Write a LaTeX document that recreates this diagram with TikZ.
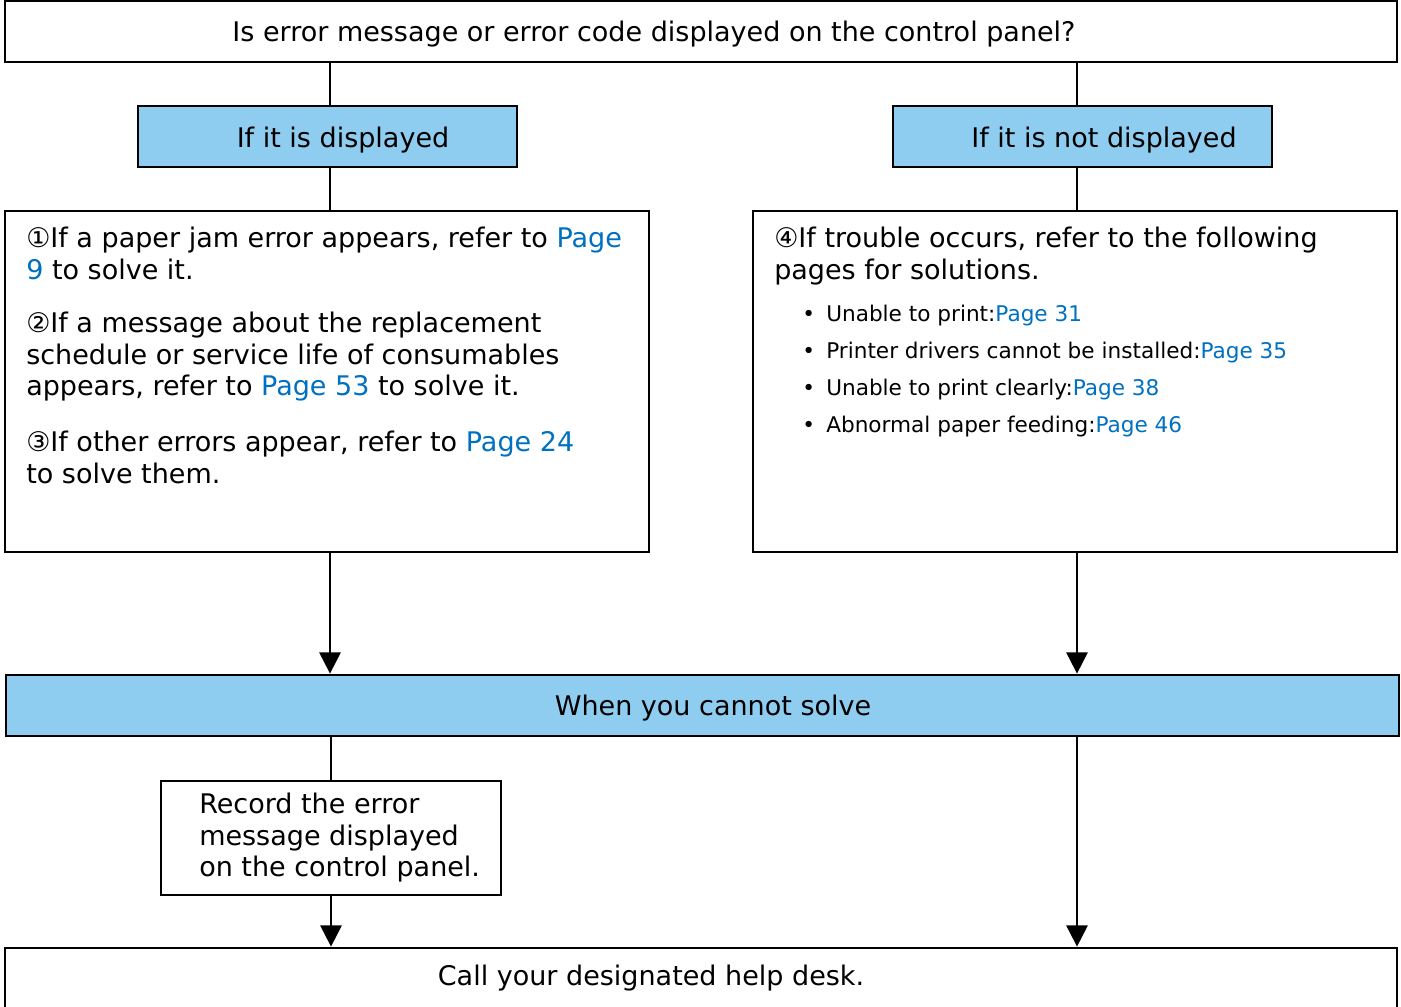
\documentclass[tikz,border=0pt]{standalone}
\usepackage{fontspec}
\setmainfont{DejaVu Sans}
\usetikzlibrary{arrows.meta}
\definecolor{paleblue}{RGB}{143,205,240}
\definecolor{linkblue}{RGB}{0,112,192}
\newcommand{\pg}[1]{\textcolor{linkblue}{#1}}
\newcommand{\bigtxt}{\fontsize{20.25pt}{23.6pt}\selectfont}
\newcommand{\smalltxt}{\fontsize{16.2pt}{27.75pt}\selectfont}
\newcommand{\bul}{\makebox[18pt][l]{\textbullet}}

\begin{document}
\begin{tikzpicture}[x=0.75pt, y=-0.75pt,
    box/.style={draw=black, line width=2.1pt, rectangle, inner sep=0pt},
    bluebox/.style={box, fill=paleblue},
    txt/.style={inner sep=0pt, font=\bigtxt, align=left},
    conn/.style={line width=1.6pt},
    arr/.style={conn, -{Triangle[width=16pt, length=16pt]}}]
      \useasboundingbox (0,0) rectangle (1401,1006);

      % boxes
      \node[box, minimum width=1044pt, minimum height=45.75pt](q) at (701, 31.5){};
      \node[bluebox, minimum width=284.25pt, minimum height=45.75pt](lblue) at (327.5, 136.5){};
      \node[bluebox, minimum width=284.25pt, minimum height=45.75pt](rblue) at (1082.5, 136.5){};
      \node[box, minimum width=483pt, minimum height=255.75pt](lbig) at (327, 381.5){};
      \node[box, minimum width=483pt, minimum height=255.75pt](rbig) at (1075, 381.5){};
      \node[bluebox, minimum width=1044.75pt, minimum height=45.75pt](bar) at (702.5, 705.5){};
      \node[box, minimum width=255pt, minimum height=85.5pt](rec) at (331, 838){};
      \node[box, minimum width=1044pt, minimum height=69pt](desk) at (701, 994){};
      \coordinate (lcol) at (330, 0);
      \coordinate (rcol) at (1077, 0);

      % texts
      \node[txt](qtext) at (654, 34){Is error message or error code displayed on the control panel?};
      \node[txt](ltext) at (343, 140){If it is displayed};
      \node[txt](rtext) at (1104, 140){If it is not displayed};
      \node[txt, anchor=north west](s1) at (26, 227){①If a paper jam error appears, refer to \pg{Page}\\\pg{9} to solve it.};
      \node[txt, anchor=north west](s2) at (26, 312){②If a message about the replacement\\schedule or service life of consumables\\appears, refer to \pg{Page 53} to solve it.};
      \node[txt, anchor=north west](s3) at (26, 431){③If other errors appear, refer to \pg{Page 24}\\to solve them.};
      \node[txt, anchor=north west](s4) at (774, 227){④If trouble occurs, refer to the following\\pages for solutions.};
      \node[txt, font=\smalltxt, anchor=north west](list) at (802, 305){\bul Unable to print:\pg{Page 31}\\
        \bul Printer drivers cannot be installed:\pg{Page 35}\\
        \bul Unable to print clearly:\pg{Page 38}\\
        \bul Abnormal paper feeding:\pg{Page 46}};
      \node[txt](bartext) at (713, 708){When you cannot solve};
      \node[txt, anchor=north west](rectext) at (199, 793){Record the error\\message displayed\\on the control panel.};
      \node[txt](desktext) at (651, 978){Call your designated help desk.};

      % connectors
      \draw[conn] (q.south -| lcol) -- (lblue.north -| lcol);
      \draw[conn] (q.south -| rcol) -- (rblue.north -| rcol);
      \draw[conn] (lblue.south -| lcol) -- (lbig.north -| lcol);
      \draw[conn] (rblue.south -| rcol) -- (rbig.north -| rcol);
      \draw[arr] (lbig.south -| lcol) -- (bar.north -| lcol);
      \draw[arr] (rbig.south -| rcol) -- (bar.north -| rcol);
      \draw[conn] (bar.south -| rec) -- (rec.north);
      \draw[arr] (rec.south) -- (rec.south |- desk.north);
      \draw[arr] (bar.south -| rcol) -- (desk.north -| rcol);
    \end{tikzpicture}
\end{document}
